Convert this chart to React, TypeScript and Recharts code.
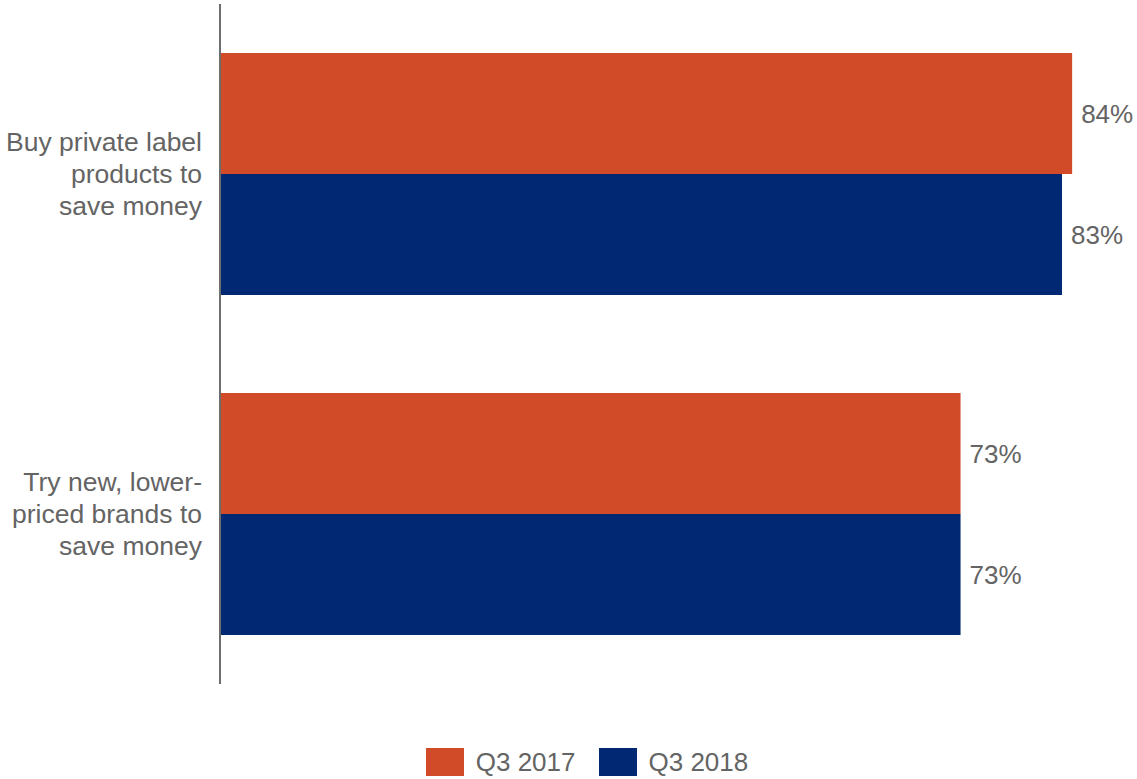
import React from 'react';
import { BarChart, Bar, XAxis, YAxis, Legend, LabelList } from 'recharts';

const categories = ['Buy private label products to save money', 'Try new, lower-priced brands to save money'];
const categoryLines = [
  ['Buy private label', 'products to', 'save money'],
  ['Try new, lower-', 'priced brands to', 'save money'],
];
const q32017 = [84, 73];
const q32018 = [83, 73];
const seriesNames = ['Q3 2017', 'Q3 2018'];

const ORANGE = '#D24B29';
const NAVY = '#002873';
const TEXT = '#646464';
const FONT = "'Liberation Sans', Arial, sans-serif";

const data = categories.map((name, i) => ({
  name,
  q2017: q32017[i],
  q2018: q32018[i],
}));

// multi-line category label, right aligned next to the axis
const CategoryTick = ({ x, y, payload }: any) => {
  const idx = categories.indexOf(payload.value);
  const lines = idx >= 0 ? categoryLines[idx] : [payload.value];
  const lineH = 32;
  const tx = x - 10;
  const start = y + 9 - ((lines.length - 1) * lineH) / 2;
  return (
    <text x={tx} y={start} textAnchor="end" fill={TEXT} fontSize={26.5} fontFamily={FONT}>
      {lines.map((l: string, i: number) => (
        <tspan key={i} x={tx} y={start + i * lineH}>{l}</tspan>
      ))}
    </text>
  );
};

const LegendContent = () => {
  const colors = [ORANGE, NAVY];
  return (
    <div style={{ display: 'flex', justifyContent: 'center', alignItems: 'center', height: 28, paddingLeft: 37, fontFamily: FONT, fontSize: 26, color: TEXT }}>
      {seriesNames.map((s, i) => (
        <div key={s} style={{ display: 'flex', alignItems: 'center', marginLeft: i === 0 ? 0 : 23 }}>
          <div style={{ width: 38, height: 28, background: colors[i], marginRight: 12 }} />
          <span style={{ lineHeight: '28px' }}>{s}</span>
        </div>
      ))}
    </div>
  );
};

export default function App() {
  return (
    <div style={{ position: 'absolute', left: 0, top: 0, width: 1137, height: 779, background: '#fff' }}>
      <BarChart
        width={1137}
        height={779}
        data={data}
        layout="vertical"
        margin={{ top: 4, right: 4, left: 0, bottom: 67 }}
        barCategoryGap="14.4%"
        barGap={0}
      >
        <XAxis type="number" domain={[0, 90]} hide />
        <YAxis
          type="category"
          dataKey="name"
          width={220}
          axisLine={{ stroke: '#6d6d6d', strokeWidth: 2 }}
          tickLine={false}
          tick={<CategoryTick />}
        />
        <Legend verticalAlign="bottom" content={<LegendContent />} wrapperStyle={{ bottom: 3, left: 0, width: 1137 }} />
        <Bar dataKey="q2017" name={seriesNames[0]} fill={ORANGE} isAnimationActive={false}>
          <LabelList dataKey="q2017" position="right" offset={9} fill={TEXT} fontSize={26} fontFamily={FONT} formatter={(v: any) => `${v}%`} />
        </Bar>
        <Bar dataKey="q2018" name={seriesNames[1]} fill={NAVY} isAnimationActive={false}>
          <LabelList dataKey="q2018" position="right" offset={9} fill={TEXT} fontSize={26} fontFamily={FONT} formatter={(v: any) => `${v}%`} />
        </Bar>
      </BarChart>
    </div>
  );
}
